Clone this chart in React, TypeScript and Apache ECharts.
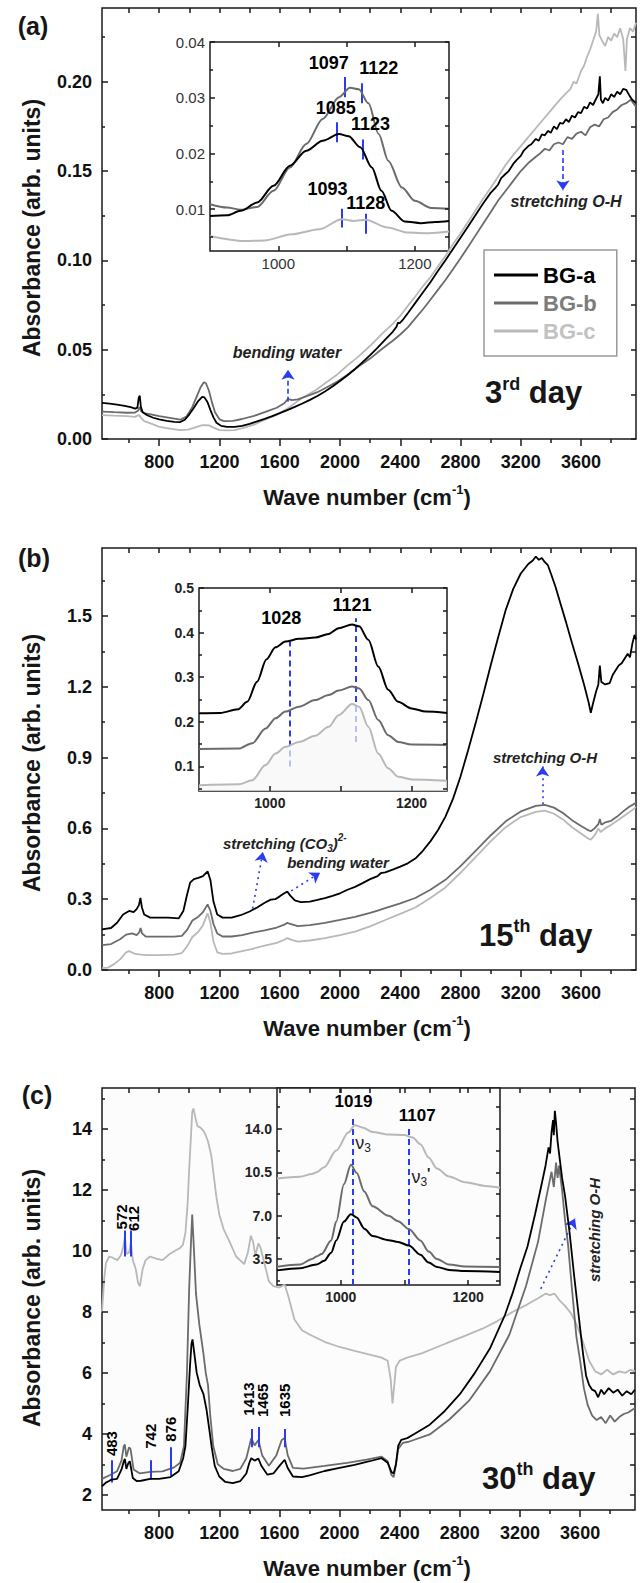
import React, { useEffect, useRef } from 'react';
import * as echarts from 'echarts';

const FONT = '"Liberation Sans", Arial, Helvetica, sans-serif';
const COL_A = '#000000';
const COL_B = '#6b6b6b';
const COL_C = '#b8b8b8';
const BLUE = '#2a3cf0';
const AXC = '#1a1a1a';
const TXT = '#161616';

// ---------- shared x axis of the three main panels ----------
const X_MIN = 420;
const X_MAX = 3965;
const X_LABELS = [800, 1200, 1600, 2000, 2400, 2800, 3200, 3600];
const X_MINOR = [600, 1000, 1400, 1800, 2200, 2600, 3000, 3400, 3800];

// ---------- panel (a) : 3rd day ----------
const A_Y_MIN = 0;
const A_Y_MAX = 0.2413;
const A_Y_LABELS = [0, 0.05, 0.1, 0.15, 0.2];
const A_Y_MINOR = [0.025, 0.075, 0.125, 0.175, 0.225];

const aBGa: [number, number][] = [
  [420, 0.0202], [470, 0.0198], [520, 0.0192], [570, 0.0186], [610, 0.0178], [640, 0.017], [655, 0.0176], [664, 0.0232], [671, 0.0242], [678, 0.018],
  [690, 0.015], [720, 0.0133], [760, 0.0119], [800, 0.011], [850, 0.0101], [900, 0.0096], [940, 0.0095], [970, 0.0108], [1000, 0.0138], [1030, 0.0175],
  [1060, 0.0214], [1085, 0.0236], [1100, 0.0233], [1120, 0.0207], [1140, 0.0162], [1160, 0.0121], [1180, 0.0091], [1210, 0.0074], [1250, 0.0068], [1300, 0.0068],
  [1350, 0.0073], [1400, 0.0085], [1450, 0.0099], [1500, 0.0113], [1550, 0.0128], [1600, 0.0145], [1650, 0.0162], [1700, 0.018], [1750, 0.0199], [1800, 0.0219],
  [1850, 0.0241], [1900, 0.0266], [1950, 0.0294], [2000, 0.0325], [2050, 0.0357], [2100, 0.0392], [2150, 0.043], [2200, 0.047], [2250, 0.0512], [2300, 0.0556],
  [2350, 0.06], [2375, 0.0628], [2385, 0.0652], [2395, 0.0648], [2420, 0.067], [2450, 0.0704], [2500, 0.0762], [2550, 0.082], [2600, 0.0878], [2650, 0.094],
  [2700, 0.1001], [2750, 0.1064], [2800, 0.1127], [2850, 0.119], [2900, 0.1254], [2950, 0.1318], [3000, 0.1378], [3030, 0.1405], [3050, 0.1425], [3070, 0.146],
  [3100, 0.1485], [3120, 0.15], [3150, 0.154], [3170, 0.156], [3200, 0.1585], [3220, 0.1615], [3250, 0.164], [3270, 0.165], [3300, 0.168], [3320, 0.167],
  [3340, 0.1705], [3360, 0.17], [3380, 0.1725], [3400, 0.1715], [3420, 0.175], [3440, 0.1735], [3460, 0.177], [3480, 0.1765], [3500, 0.179], [3520, 0.1775],
  [3540, 0.181], [3560, 0.18], [3580, 0.183], [3600, 0.1825], [3620, 0.186], [3640, 0.185], [3660, 0.1885], [3680, 0.187], [3700, 0.1905], [3715, 0.193],
  [3725, 0.203], [3732, 0.19], [3745, 0.188], [3760, 0.191], [3780, 0.1895], [3800, 0.193], [3820, 0.1915], [3840, 0.1945], [3860, 0.193], [3880, 0.196],
  [3900, 0.1955], [3920, 0.1925], [3940, 0.19], [3965, 0.188],
];
const aBGb: [number, number][] = [
  [420, 0.0153], [500, 0.015], [586, 0.0147], [640, 0.0148], [660, 0.016], [670, 0.0178], [680, 0.0155], [700, 0.0145], [760, 0.0135], [800, 0.0128],
  [870, 0.0118], [940, 0.0108], [980, 0.0125], [1020, 0.018], [1050, 0.024], [1075, 0.029], [1096, 0.0318], [1110, 0.0312], [1130, 0.027], [1150, 0.0205],
  [1170, 0.015], [1200, 0.011], [1230, 0.01], [1290, 0.0102], [1350, 0.0112], [1430, 0.013], [1500, 0.015], [1580, 0.0175], [1630, 0.02], [1655, 0.0225],
  [1680, 0.0218], [1720, 0.0222], [1780, 0.024], [1850, 0.0262], [1910, 0.0288], [1980, 0.032], [2050, 0.036], [2120, 0.0405], [2200, 0.045], [2280, 0.0505],
  [2350, 0.055], [2400, 0.0585], [2450, 0.0625], [2500, 0.0675], [2550, 0.0725], [2600, 0.078], [2650, 0.0835], [2700, 0.089], [2750, 0.095], [2800, 0.1012],
  [2850, 0.1075], [2900, 0.114], [2950, 0.1205], [3000, 0.127], [3050, 0.1335], [3100, 0.139], [3150, 0.1445], [3200, 0.15], [3250, 0.1545], [3300, 0.158],
  [3330, 0.16], [3360, 0.1625], [3390, 0.1615], [3420, 0.165], [3450, 0.166], [3480, 0.165], [3510, 0.169], [3540, 0.168], [3570, 0.171], [3600, 0.172],
  [3630, 0.17], [3660, 0.1745], [3690, 0.176], [3720, 0.175], [3750, 0.179], [3780, 0.18], [3810, 0.183], [3840, 0.1845], [3870, 0.187], [3900, 0.188],
  [3930, 0.19], [3965, 0.186],
];
const aBGc: [number, number][] = [
  [420, 0.0134], [500, 0.0131], [586, 0.0128], [640, 0.0124], [665, 0.0135], [680, 0.0118], [700, 0.01], [760, 0.0082], [800, 0.0068], [870, 0.0058],
  [940, 0.005], [990, 0.0052], [1030, 0.0062], [1080, 0.0076], [1100, 0.0078], [1130, 0.0076], [1160, 0.0064], [1200, 0.005], [1250, 0.0048], [1300, 0.005],
  [1360, 0.0062], [1430, 0.008], [1500, 0.0108], [1580, 0.0135], [1660, 0.0175], [1740, 0.0225], [1800, 0.0255], [1850, 0.028], [1910, 0.0318], [1980, 0.036],
  [2050, 0.0412], [2120, 0.046], [2200, 0.0522], [2280, 0.059], [2350, 0.0645], [2400, 0.069], [2450, 0.0745], [2500, 0.0798], [2550, 0.0855], [2600, 0.0905],
  [2650, 0.0965], [2700, 0.1025], [2750, 0.109], [2800, 0.115], [2850, 0.1215], [2900, 0.128], [2950, 0.1345], [3000, 0.1405], [3050, 0.147], [3100, 0.1535],
  [3150, 0.159], [3200, 0.164], [3250, 0.169], [3300, 0.174], [3350, 0.179], [3400, 0.184], [3450, 0.189], [3500, 0.1935], [3530, 0.196], [3550, 0.2],
  [3570, 0.199], [3600, 0.206], [3620, 0.209], [3640, 0.214], [3660, 0.218], [3680, 0.223], [3700, 0.228], [3712, 0.238], [3722, 0.226], [3740, 0.223],
  [3760, 0.22], [3780, 0.225], [3800, 0.223], [3820, 0.227], [3840, 0.225], [3860, 0.23], [3880, 0.224], [3895, 0.206], [3905, 0.224], [3925, 0.23],
  [3945, 0.228], [3965, 0.233],
];

// inset (a)
const AI_X_MIN = 900;
const AI_X_MAX = 1250;
const AI_Y_MIN = 0.0025;
const AI_Y_MAX = 0.04;
const AI_X_LABELS = [1000, 1200];
const AI_X_MINOR = [1100];
const AI_Y_LABELS = [0.01, 0.02, 0.03, 0.04];
const AI_Y_MINOR = [0.005, 0.015, 0.025, 0.035];
const aiBGa: [number, number][] = [
  [900, 0.0088], [925, 0.0089], [945, 0.0097], [969, 0.0112], [993, 0.0142], [1017, 0.0178], [1041, 0.0205], [1065, 0.0223], [1089, 0.0235], [1103, 0.0231],
  [1120, 0.0211], [1137, 0.0175], [1151, 0.0133], [1166, 0.0097], [1185, 0.0078], [1209, 0.0075], [1230, 0.0077], [1250, 0.0079],
];
const aiBGb: [number, number][] = [
  [900, 0.0109], [925, 0.0103], [945, 0.0099], [969, 0.0104], [993, 0.0133], [1017, 0.0175], [1041, 0.0217], [1065, 0.0262], [1089, 0.0301], [1105, 0.0318],
  [1118, 0.0315], [1132, 0.029], [1147, 0.0235], [1161, 0.0187], [1181, 0.0139], [1200, 0.0115], [1224, 0.0102], [1250, 0.0101],
];
const aiBGc: [number, number][] = [
  [900, 0.0052], [950, 0.0043], [980, 0.0044], [1020, 0.0055], [1060, 0.0064], [1093, 0.0082], [1110, 0.0079], [1128, 0.0081], [1160, 0.0067], [1190, 0.0058],
  [1220, 0.0057], [1250, 0.006],
];
// blue tick marks of inset (a): [wavenumber, from, to]
const aiMarks: [number, number, number][] = [
  [1097, 0.0301, 0.0337], [1122, 0.029, 0.0326], [1085, 0.022, 0.0256], [1123, 0.0189, 0.0225], [1093, 0.0067, 0.0101], [1128, 0.0056, 0.0092],
];
const aiMarkLabels: [string, number, number][] = [
  ['1097', 1074, 0.0362], ['1122', 1147, 0.0353], ['1085', 1084, 0.0281], ['1123', 1135, 0.0252], ['1093', 1072, 0.0137], ['1128', 1128, 0.0112],
];
const aArrows: [number, number, number, number][] = [
  [1655, 0.0208, 1655, 0.0388], [3480, 0.1618, 3480, 0.1392],
];

// ---------- panel (b) : 15th day ----------
const B_Y_MIN = 0;
const B_Y_MAX = 1.788;
const B_Y_LABELS = [0, 0.3, 0.6, 0.9, 1.2, 1.5];
const B_Y_MINOR = [0.15, 0.45, 0.75, 1.05, 1.35, 1.65];
const bBGa: [number, number][] = [
  [420, 0.172], [480, 0.178], [520, 0.2], [560, 0.235], [600, 0.25], [630, 0.245], [650, 0.258], [665, 0.275], [675, 0.305], [685, 0.265],
  [700, 0.235], [740, 0.222], [800, 0.222], [860, 0.222], [930, 0.219], [960, 0.25], [985, 0.32], [1005, 0.37], [1030, 0.385], [1060, 0.39],
  [1090, 0.398], [1121, 0.418], [1140, 0.38], [1160, 0.29], [1185, 0.235], [1220, 0.222], [1280, 0.222], [1340, 0.232], [1400, 0.248], [1450, 0.265],
  [1500, 0.285], [1540, 0.298], [1570, 0.3], [1600, 0.312], [1630, 0.325], [1650, 0.332], [1670, 0.315], [1700, 0.295], [1740, 0.288], [1800, 0.29],
  [1850, 0.297], [1900, 0.305], [1950, 0.314], [2000, 0.325], [2050, 0.34], [2100, 0.352], [2150, 0.368], [2200, 0.385], [2250, 0.398], [2270, 0.41],
  [2300, 0.414], [2350, 0.425], [2400, 0.438], [2450, 0.452], [2500, 0.472], [2550, 0.505], [2600, 0.545], [2650, 0.592], [2700, 0.65], [2750, 0.725],
  [2800, 0.82], [2850, 0.93], [2900, 1.045], [2950, 1.165], [3000, 1.29], [3050, 1.41], [3100, 1.525], [3150, 1.615], [3200, 1.68], [3250, 1.72],
  [3280, 1.735], [3300, 1.752], [3320, 1.738], [3340, 1.746], [3360, 1.728], [3380, 1.715], [3400, 1.68], [3430, 1.625], [3460, 1.56], [3500, 1.475],
  [3540, 1.385], [3580, 1.3], [3620, 1.21], [3650, 1.135], [3665, 1.09], [3680, 1.13], [3700, 1.18], [3715, 1.21], [3725, 1.29], [3735, 1.22],
  [3760, 1.21], [3790, 1.215], [3810, 1.25], [3830, 1.27], [3850, 1.29], [3870, 1.3], [3890, 1.32], [3910, 1.34], [3925, 1.325], [3940, 1.38],
  [3955, 1.42], [3965, 1.4],
];
const bBGb: [number, number][] = [
  [420, 0.105], [480, 0.11], [540, 0.13], [580, 0.15], [620, 0.155], [650, 0.148], [668, 0.16], [676, 0.178], [686, 0.155], [710, 0.142],
  [800, 0.141], [900, 0.141], [950, 0.145], [985, 0.17], [1020, 0.21], [1060, 0.226], [1090, 0.245], [1121, 0.278], [1140, 0.25], [1160, 0.195],
  [1185, 0.155], [1220, 0.142], [1280, 0.142], [1350, 0.148], [1420, 0.158], [1500, 0.168], [1580, 0.18], [1630, 0.192], [1650, 0.2], [1670, 0.195],
  [1720, 0.186], [1800, 0.19], [1900, 0.2], [2000, 0.212], [2100, 0.225], [2200, 0.242], [2250, 0.252], [2300, 0.262], [2400, 0.282], [2500, 0.305],
  [2600, 0.34], [2700, 0.382], [2800, 0.44], [2900, 0.505], [3000, 0.57], [3100, 0.63], [3200, 0.672], [3300, 0.695], [3360, 0.7], [3420, 0.688],
  [3480, 0.665], [3540, 0.635], [3600, 0.61], [3640, 0.595], [3665, 0.588], [3690, 0.6], [3715, 0.618], [3725, 0.64], [3735, 0.615], [3760, 0.625],
  [3800, 0.632], [3840, 0.65], [3880, 0.672], [3920, 0.692], [3965, 0.708],
];
const bBGc: [number, number][] = [
  [420, 0.008], [460, 0.01], [500, 0.025], [540, 0.045], [580, 0.075], [600, 0.08], [640, 0.068], [680, 0.065], [720, 0.063], [800, 0.063],
  [900, 0.065], [950, 0.072], [985, 0.1], [1020, 0.14], [1060, 0.162], [1090, 0.19], [1121, 0.24], [1140, 0.2], [1160, 0.12], [1185, 0.075],
  [1220, 0.068], [1280, 0.07], [1350, 0.08], [1420, 0.09], [1500, 0.103], [1580, 0.115], [1630, 0.128], [1650, 0.135], [1680, 0.128], [1720, 0.12],
  [1800, 0.125], [1900, 0.135], [2000, 0.148], [2100, 0.163], [2200, 0.185], [2300, 0.212], [2400, 0.238], [2500, 0.265], [2600, 0.305], [2700, 0.35],
  [2800, 0.412], [2900, 0.478], [3000, 0.545], [3100, 0.605], [3200, 0.648], [3300, 0.67], [3360, 0.675], [3420, 0.662], [3480, 0.638], [3540, 0.605],
  [3600, 0.578], [3640, 0.56], [3665, 0.552], [3690, 0.57], [3715, 0.6], [3730, 0.585], [3760, 0.6], [3800, 0.615], [3840, 0.632], [3880, 0.65],
  [3920, 0.668], [3965, 0.69],
];

// inset (b)
const BI_X_MIN = 900;
const BI_X_MAX = 1250;
const BI_Y_MIN = 0.045;
const BI_Y_MAX = 0.5;
const BI_X_LABELS = [1000, 1200];
const BI_X_MINOR = [1100];
const BI_Y_LABELS = [0.1, 0.2, 0.3, 0.4, 0.5];
const BI_Y_MINOR = [0.05, 0.15, 0.25, 0.35, 0.45];
const biBGa: [number, number][] = [
  [900, 0.219], [930, 0.22], [955, 0.228], [968, 0.245], [982, 0.29], [995, 0.34], [1008, 0.367], [1022, 0.38], [1041, 0.386], [1064, 0.389],
  [1083, 0.397], [1097, 0.41], [1116, 0.418], [1126, 0.414], [1139, 0.384], [1153, 0.324], [1167, 0.272], [1181, 0.245], [1200, 0.23], [1220, 0.223],
  [1250, 0.22],
];
const biBGb: [number, number][] = [
  [900, 0.139], [956, 0.14], [975, 0.152], [994, 0.185], [1008, 0.208], [1022, 0.223], [1041, 0.234], [1064, 0.249], [1083, 0.26], [1097, 0.27],
  [1116, 0.279], [1126, 0.275], [1139, 0.249], [1153, 0.204], [1167, 0.17], [1181, 0.155], [1200, 0.149], [1250, 0.148],
];
const biBGc: [number, number][] = [
  [900, 0.058], [956, 0.06], [975, 0.069], [994, 0.103], [1008, 0.129], [1022, 0.144], [1041, 0.155], [1064, 0.169], [1083, 0.189], [1097, 0.215],
  [1116, 0.24], [1126, 0.234], [1139, 0.189], [1153, 0.129], [1167, 0.096], [1181, 0.077], [1200, 0.071], [1250, 0.068],
];
const biLines: [number, number, number][] = [[1028, 0.1, 0.382], [1121, 0.155, 0.432]];
const biLineLabels: [string, number, number][] = [['1028', 1016, 0.433], ['1121', 1116, 0.462]];
const bArrows: [number, number, number, number][] = [
  [1420, 0.26, 1488, 0.5], [1676, 0.335, 1868, 0.412], [3345, 0.702, 3345, 0.862],
];

// ---------- panel (c) : 30th day ----------
const C_Y_MIN = 1.5;
const C_Y_MAX = 15.35;
const C_Y_LABELS = [2, 4, 6, 8, 10, 12, 14];
const C_Y_MINOR = [3, 5, 7, 9, 11, 13, 15];
const cBGa: [number, number][] = [
  [420, 2.28], [446, 2.4], [470, 2.46], [483, 2.5], [520, 2.52], [550, 2.83], [565, 3.1], [572, 3.18], [582, 2.85], [596, 3.05],
  [605, 3.1], [625, 2.55], [650, 2.45], [680, 2.46], [740, 2.52], [800, 2.52], [876, 2.58], [930, 2.77], [960, 3.2], [975, 3.6],
  [990, 4.83], [1005, 6.2], [1015, 6.95], [1022, 7.1], [1035, 6.6], [1050, 6.0], [1070, 5.6], [1095, 5.3], [1115, 4.8], [1135, 4.1],
  [1150, 3.55], [1170, 2.95], [1200, 2.6], [1240, 2.42], [1290, 2.38], [1340, 2.45], [1380, 2.7], [1400, 3.05], [1413, 3.2], [1435, 3.12],
  [1460, 3.19], [1480, 2.95], [1520, 2.66], [1560, 2.7], [1600, 2.95], [1635, 3.15], [1655, 2.88], [1690, 2.6], [1750, 2.58], [1800, 2.64],
  [1900, 2.78], [2000, 2.88], [2100, 2.98], [2200, 3.1], [2280, 3.2], [2320, 3.05], [2345, 2.75], [2360, 2.7], [2375, 3.0], [2390, 3.6],
  [2410, 3.8], [2450, 3.86], [2500, 4.0], [2600, 4.3], [2700, 4.75], [2800, 5.3], [2900, 6.0], [3000, 6.8], [3100, 7.9], [3150, 8.6],
  [3200, 9.4], [3250, 10.15], [3300, 11.2], [3340, 12.1], [3370, 12.8], [3390, 13.4], [3400, 13.2], [3410, 13.9], [3420, 14.3], [3425, 13.8],
  [3432, 14.6], [3440, 14.2], [3450, 13.6], [3465, 13.0], [3480, 12.4], [3500, 11.8], [3530, 10.6], [3560, 9.2], [3590, 7.9], [3620, 6.6],
  [3640, 5.9], [3660, 5.6], [3680, 5.45], [3700, 5.4], [3720, 5.2], [3740, 5.45], [3760, 5.3], [3790, 5.5], [3820, 5.35], [3850, 5.45],
  [3880, 5.25], [3910, 5.4], [3940, 5.3], [3965, 5.45],
];
const cBGb: [number, number][] = [
  [420, 2.52], [470, 2.64], [520, 2.77], [550, 3.13], [565, 3.6], [572, 3.65], [582, 3.25], [600, 3.56], [610, 3.5], [630, 2.83],
  [672, 2.7], [740, 2.75], [822, 2.77], [900, 2.9], [940, 3.05], [965, 3.6], [985, 6.0], [1000, 8.8], [1012, 10.3], [1020, 11.2],
  [1030, 10.2], [1045, 8.6], [1067, 7.6], [1094, 6.66], [1110, 6.0], [1125, 5.6], [1140, 4.6], [1160, 3.6], [1190, 3.0], [1230, 2.85],
  [1290, 2.78], [1340, 2.85], [1380, 3.2], [1413, 3.86], [1435, 3.62], [1460, 3.8], [1485, 3.3], [1530, 2.95], [1580, 3.3], [1615, 3.8],
  [1635, 3.86], [1655, 3.3], [1690, 2.88], [1760, 2.86], [1900, 2.95], [2050, 3.05], [2180, 3.15], [2280, 3.25], [2320, 3.1], [2345, 2.65],
  [2360, 2.58], [2375, 3.0], [2390, 3.5], [2420, 3.7], [2460, 3.74], [2600, 3.98], [2730, 4.47], [2860, 5.08], [3000, 6.05], [3130, 7.26],
  [3240, 8.85], [3320, 10.3], [3375, 11.76], [3410, 12.6], [3425, 12.1], [3440, 12.9], [3450, 12.4], [3460, 12.8], [3480, 12.0], [3500, 11.0],
  [3520, 10.2], [3545, 8.8], [3575, 7.2], [3600, 6.4], [3625, 5.5], [3650, 4.95], [3680, 4.6], [3710, 4.45], [3740, 4.55], [3770, 4.35],
  [3800, 4.6], [3830, 4.4], [3860, 4.55], [3890, 4.65], [3920, 4.7], [3950, 4.8], [3965, 4.85],
];
const cBGc: [number, number][] = [
  [420, 7.99], [435, 9.1], [446, 9.6], [468, 9.82], [490, 9.78], [522, 9.7], [545, 9.85], [560, 10.1], [572, 10.45], [585, 9.9],
  [600, 9.95], [612, 10.3], [625, 9.7], [645, 9.4], [660, 8.95], [672, 8.84], [690, 9.4], [710, 9.7], [740, 9.82], [780, 9.75],
  [822, 9.7], [870, 9.9], [903, 10.0], [940, 10.1], [958, 10.2], [975, 10.6], [990, 11.6], [1000, 12.7], [1012, 13.8], [1020, 14.55],
  [1028, 14.68], [1040, 14.4], [1055, 14.1], [1075, 14.05], [1094, 13.95], [1110, 13.8], [1125, 13.6], [1148, 13.1], [1165, 12.4], [1180, 11.8],
  [1200, 11.2], [1230, 10.7], [1260, 10.4], [1312, 9.82], [1366, 9.57], [1390, 9.95], [1410, 10.5], [1425, 10.3], [1440, 9.85], [1460, 10.25],
  [1475, 10.1], [1500, 9.6], [1530, 9.0], [1560, 8.85], [1600, 8.8], [1635, 8.9], [1660, 8.5], [1700, 7.75], [1750, 7.4], [1800, 7.26],
  [1900, 7.02], [2000, 6.85], [2100, 6.72], [2200, 6.6], [2280, 6.5], [2320, 6.4], [2340, 5.8], [2352, 5.0], [2362, 5.5], [2375, 6.2],
  [2400, 6.4], [2450, 6.5], [2550, 6.65], [2650, 6.85], [2750, 7.05], [2850, 7.25], [2950, 7.45], [3050, 7.7], [3150, 8.0], [3250, 8.25],
  [3320, 8.45], [3370, 8.6], [3400, 8.55], [3430, 8.6], [3460, 8.4], [3500, 8.2], [3540, 7.95], [3580, 7.55], [3620, 7.0], [3660, 6.4],
  [3700, 6.05], [3740, 5.95], [3780, 6.1], [3820, 5.95], [3860, 6.05], [3900, 6.0], [3935, 6.1], [3965, 6.05],
];
const cMarks: [number, number, number][] = [
  [483, 2.4, 3.13], [742, 2.5, 3.13], [876, 2.62, 3.56], [1413, 3.56, 4.16], [1465, 3.56, 4.22], [1635, 3.56, 4.16], [572, 9.82, 10.67], [612, 9.82, 10.67],
];
const cMarkLabels: [string, number, number][] = [
  ['483', 483, 3.68], ['742', 742, 3.92], ['876', 876, 4.15], ['1413', 1392, 5.14], ['1465', 1490, 5.1], ['1635', 1635, 5.1], ['572', 548, 11.12], ['612', 632, 11.07],
];
const cArrows: [number, number, number, number][] = [[3338, 8.76, 3566, 11.07]];

// inset (c)
const CI_X_MIN = 900;
const CI_X_MAX = 1250;
const CI_Y_MIN = 1.4;
const CI_Y_MAX = 17.3;
const CI_X_LABELS = [1000, 1200];
const CI_X_MINOR = [1100];
const CI_Y_LABELS = [3.5, 7, 10.5, 14];
const CI_Y_MINOR = [1.75, 5.25, 8.75, 12.25, 15.75];
const ciBGa: [number, number][] = [
  [900, 2.58], [936, 2.75], [962, 3.05], [974, 3.35], [985, 4.0], [993, 5.0], [1005, 6.52], [1016, 7.12], [1025, 6.85], [1037, 5.95],
  [1050, 5.35], [1075, 5.02], [1090, 4.88], [1107, 4.58], [1125, 3.85], [1138, 3.22], [1151, 2.86], [1170, 2.62], [1195, 2.52], [1250, 2.45],
];
const ciBGb: [number, number][] = [
  [900, 2.88], [936, 3.05], [955, 3.5], [962, 3.7], [970, 3.9], [985, 5.0], [993, 6.52], [1005, 9.53], [1016, 11.1], [1025, 10.45],
  [1037, 8.95], [1050, 7.75], [1075, 6.98], [1090, 6.55], [1107, 5.92], [1125, 5.0], [1138, 4.1], [1151, 3.5], [1170, 3.05], [1195, 2.9],
  [1250, 2.85],
];
const ciBGc: [number, number][] = [
  [900, 9.99], [936, 10.14], [955, 10.35], [962, 10.5], [974, 10.9], [993, 12.25], [1012, 13.7], [1022, 14.3], [1035, 14.1], [1050, 13.75],
  [1075, 13.55], [1100, 13.5], [1113, 13.3], [1125, 12.75], [1138, 11.7], [1151, 10.8], [1170, 10.15], [1195, 9.7], [1227, 9.4], [1250, 9.25],
];
const ciLines: [number, number, number][] = [[1019, CI_Y_MIN, 15.1], [1107, CI_Y_MIN, 14.3]];
const ciLineLabels: [string, number, number][] = [['1019', 1020, 16.2], ['1107', 1120, 15.1]];
const ciNuLabels: [string, number, number][] = [['{v|ν}{s|3}', 1019, 12.9], ["{v|ν}{s|3}{p|'}", 1107, 10.1]];

// ---------- helpers ----------
let measureCtx: CanvasRenderingContext2D | null = null;
function tw(text: string, size: number, weight: string, style: string) {
  if (!measureCtx) measureCtx = document.createElement('canvas').getContext('2d');
  measureCtx!.font = `${style} ${weight} ${size}px "Liberation Sans", Arial, sans-serif`;
  return measureCtx!.measureText(text).width;
}
type Piece = { t: string; size: number; dy?: number; italic?: boolean; weight?: string };
function compose(pieces: Piece[], x: number, cy: number, align: 'left' | 'center', color = TXT) {
  const ws = pieces.map((p) => tw(p.t, p.size, p.weight || 'bold', p.italic ? 'italic' : 'normal'));
  const total = ws.reduce((a, b) => a + b, 0);
  let cx = align === 'center' ? x - total / 2 : x;
  return pieces.map((p, i) => {
    const el = {
      type: 'text', x: cx, y: cy + (p.dy || 0), silent: true, z: 50,
      style: {
        text: p.t, fontSize: p.size, fontWeight: p.weight || 'bold', fontStyle: p.italic ? 'italic' : 'normal',
        fontFamily: FONT, fill: color, align: 'left', verticalAlign: 'middle',
      },
    };
    cx += ws[i];
    return el;
  });
}

function buildOption() {
  const grid: any[] = [];
  const xAxis: any[] = [];
  const yAxis: any[] = [];
  const series: any[] = [];

  const addGrid = (left: number, top: number, width: number, height: number, bg: string) => {
    grid.push({ left, top, width, height, show: true, borderColor: AXC, borderWidth: 1.5, backgroundColor: bg, containLabel: false, z: 0 });
    return grid.length - 1;
  };
  const ax = (g: number, pos: string, min: number, max: number, o: any) => ({
    type: 'value', gridIndex: g, position: pos, min, max, scale: false, z: 10,
    axisLine: { show: false, onZero: false },
    splitLine: { show: false },
    axisTick: o.ticks ? { show: true, customValues: o.ticks, inside: !!o.inside, length: o.len, lineStyle: { color: AXC, width: 1.5 } } : { show: false },
    axisLabel: o.labels ? { show: true, customValues: o.labels, formatter: o.fmt, ...o.lab } : { show: false },
  });
  const mainLab = (margin: number) => ({ margin, fontSize: 18, fontWeight: 'bold', color: '#111', fontFamily: FONT });

  const mainAxes = (g: number, yMin: number, yMax: number, yLabels: number[], yMinor: number[], fmt: (v: number) => string) => {
    const xi = xAxis.length;
    xAxis.push(ax(g, 'bottom', X_MIN, X_MAX, { ticks: X_LABELS, len: 7, labels: X_LABELS, fmt: (v: number) => String(v), lab: mainLab(14) }));
    xAxis.push(ax(g, 'bottom', X_MIN, X_MAX, { ticks: X_MINOR, len: 4 }));
    xAxis.push(ax(g, 'top', X_MIN, X_MAX, { ticks: [...X_LABELS, ...X_MINOR], len: 5, inside: true }));
    const yi = yAxis.length;
    yAxis.push(ax(g, 'left', yMin, yMax, { ticks: yLabels, len: 6, inside: true, labels: yLabels, fmt, lab: mainLab(10) }));
    yAxis.push(ax(g, 'left', yMin, yMax, { ticks: yMinor, len: 3, inside: true }));
    yAxis.push(ax(g, 'right', yMin, yMax, { ticks: [...yLabels, ...yMinor], len: 5, inside: true }));
    return [xi, yi];
  };
  const insetAxes = (g: number, xr: number[], xLabels: number[], xMinor: number[], yr: number[], yLabels: number[], yMinor: number[],
    fmt: (v: number) => string, lab: any) => {
    const xi = xAxis.length;
    xAxis.push(ax(g, 'bottom', xr[0], xr[1], { ticks: [...xLabels, ...xMinor], len: 5, inside: true, labels: xLabels, fmt: (v: number) => String(v), lab: { ...lab, margin: 5 } }));
    xAxis.push(ax(g, 'top', xr[0], xr[1], { ticks: [...xLabels, ...xMinor], len: 5, inside: true }));
    const yi = yAxis.length;
    yAxis.push(ax(g, 'left', yr[0], yr[1], { ticks: yLabels, len: 5, inside: true, labels: yLabels, fmt, lab: { ...lab, margin: 5 } }));
    yAxis.push(ax(g, 'left', yr[0], yr[1], { ticks: yMinor, len: 3, inside: true }));
    yAxis.push(ax(g, 'right', yr[0], yr[1], { ticks: [...yLabels, ...yMinor], len: 4, inside: true }));
    return [xi, yi];
  };
  const line = (name: string, data: [number, number][], xi: number, yi: number, color: string, width: number, z: number, extra: any = {}) => ({
    type: 'line', name, data, xAxisIndex: xi, yAxisIndex: yi, showSymbol: false, symbol: 'none', color,
    lineStyle: { color, width }, itemStyle: { color }, z, silent: true, ...extra,
  });
  const segs = (marks: [number, number, number][]) => marks.map(([x, a, b]) => [{ coord: [x, a] }, { coord: [x, b] }]);
  const arrows = (arr: [number, number, number, number][]) =>
    arr.map(([x1, y1, x2, y2]) => [{ coord: [x1, y1], symbol: 'none' }, { coord: [x2, y2], symbol: 'arrow', symbolSize: 10 }]);
  const markSolid = (marks: [number, number, number][]) => ({
    silent: true, symbol: 'none', label: { show: false }, lineStyle: { color: BLUE, width: 2, type: 'solid' }, data: segs(marks),
  });
  const markDashed = (marks: [number, number, number][]) => ({
    silent: true, symbol: 'none', label: { show: false }, lineStyle: { color: BLUE, width: 2, type: [6, 4] }, data: segs(marks),
  });
  const markArrows = (arr: [number, number, number, number][], dash: number[]) => ({
    silent: true, symbol: ['none', 'arrow'], symbolSize: 10, label: { show: false },
    itemStyle: { color: BLUE }, lineStyle: { color: BLUE, width: 1.6, type: dash }, data: arrows(arr),
  });
  const textSeries = (xi: number, yi: number, items: [string, number, number][], lab: any) => ({
    type: 'scatter', xAxisIndex: xi, yAxisIndex: yi, symbolSize: 1, silent: true, z: 20,
    itemStyle: { color: 'rgba(0,0,0,0)', opacity: 1 },
    data: items.map(([t, x, y]) => ({ name: t, value: [x, y] })),
    label: { show: true, position: 'inside', formatter: (p: any) => p.name, opacity: 1, ...lab },
  });
  const numLab = { fontSize: 18, fontWeight: 'bold', color: '#000', fontFamily: FONT };

  // ---- panel (a)
  const gA = addGrid(102, 8, 534, 431, '#ffffff');
  const [axA, ayA] = mainAxes(gA, A_Y_MIN, A_Y_MAX, A_Y_LABELS, A_Y_MINOR, (v) => v.toFixed(2));
  series.push(line('BG-c', aBGc, axA, ayA, COL_C, 1.8, 3));
  series.push(line('BG-b', aBGb, axA, ayA, COL_B, 1.8, 4, { markLine: markArrows(aArrows, [5, 3]) }));
  series.push(line('BG-a', aBGa, axA, ayA, COL_A, 1.8, 5));

  const gAI = addGrid(210, 42, 239, 209, '#ffffff');
  const [axAI, ayAI] = insetAxes(gAI, [AI_X_MIN, AI_X_MAX], AI_X_LABELS, AI_X_MINOR, [AI_Y_MIN, AI_Y_MAX], AI_Y_LABELS, AI_Y_MINOR,
    (v) => v.toFixed(2), { fontSize: 15, fontWeight: 'normal', color: '#333', fontFamily: FONT });
  series.push(line('BG-c', aiBGc, axAI, ayAI, COL_C, 2, 6, { smooth: 0.3, smoothMonotone: 'x' }));
  series.push(line('BG-b', aiBGb, axAI, ayAI, COL_B, 2, 7, { smooth: 0.3, smoothMonotone: 'x' }));
  series.push(line('BG-a', aiBGa, axAI, ayAI, COL_A, 2, 8, { smooth: 0.3, smoothMonotone: 'x', markLine: markSolid(aiMarks) }));
  series.push(textSeries(axAI, ayAI, aiMarkLabels, numLab));

  // ---- panel (b)
  const gB = addGrid(102, 548, 534, 422, '#ffffff');
  const [axB, ayB] = mainAxes(gB, B_Y_MIN, B_Y_MAX, B_Y_LABELS, B_Y_MINOR, (v) => v.toFixed(1));
  series.push(line('BG-c', bBGc, axB, ayB, COL_C, 1.8, 3));
  series.push(line('BG-b', bBGb, axB, ayB, COL_B, 1.8, 4, { markLine: markArrows(bArrows, [2, 4]) }));
  series.push(line('BG-a', bBGa, axB, ayB, COL_A, 1.8, 5));

  const gBI = addGrid(199, 588, 248, 203, '#ffffff');
  const [axBI, ayBI] = insetAxes(gBI, [BI_X_MIN, BI_X_MAX], BI_X_LABELS, BI_X_MINOR, [BI_Y_MIN, BI_Y_MAX], BI_Y_LABELS, BI_Y_MINOR,
    (v) => v.toFixed(1), { fontSize: 14, fontWeight: 'bold', color: '#222', fontFamily: FONT });
  series.push(line('BG-c', biBGc, axBI, ayBI, COL_C, 2, 6, { smooth: 0.3, smoothMonotone: 'x', areaStyle: { color: '#f6f6f6', origin: 'start' } }));
  series.push(line('BG-b', biBGb, axBI, ayBI, COL_B, 2, 7, { smooth: 0.3, smoothMonotone: 'x' }));
  series.push(line('BG-a', biBGa, axBI, ayBI, COL_A, 2, 8, { smooth: 0.3, smoothMonotone: 'x', markLine: markDashed(biLines) }));
  series.push(textSeries(axBI, ayBI, biLineLabels, numLab));

  // ---- panel (c)
  const gC = addGrid(102, 1088, 533, 422, '#fcfcfc');
  const [axC, ayC] = mainAxes(gC, C_Y_MIN, C_Y_MAX, C_Y_LABELS, C_Y_MINOR, (v) => String(v));
  series.push(line('BG-c', cBGc, axC, ayC, COL_C, 1.8, 3));
  series.push(line('BG-b', cBGb, axC, ayC, COL_B, 1.8, 4, { markLine: markArrows(cArrows, [2, 4]) }));
  series.push(line('BG-a', cBGa, axC, ayC, COL_A, 1.8, 5, { markLine: markSolid(cMarks) }));
  series.push(textSeries(axC, ayC, cMarkLabels, { fontSize: 15, fontWeight: 'bold', color: '#000', fontFamily: FONT, rotate: 90 }));

  const gCI = addGrid(277, 1088, 223, 197, '#fcfcfc');
  const [axCI, ayCI] = insetAxes(gCI, [CI_X_MIN, CI_X_MAX], CI_X_LABELS, CI_X_MINOR, [CI_Y_MIN, CI_Y_MAX], CI_Y_LABELS, CI_Y_MINOR,
    (v) => v.toFixed(1), { fontSize: 14, fontWeight: 'bold', color: '#222', fontFamily: FONT });
  series.push(line('BG-c', ciBGc, axCI, ayCI, COL_C, 2, 6, { smooth: 0.3, smoothMonotone: 'x' }));
  series.push(line('BG-b', ciBGb, axCI, ayCI, COL_B, 2, 7, { smooth: 0.3, smoothMonotone: 'x' }));
  series.push(line('BG-a', ciBGa, axCI, ayCI, COL_A, 2, 8, { smooth: 0.3, smoothMonotone: 'x', markLine: markDashed(ciLines) }));
  series.push(textSeries(axCI, ayCI, ciLineLabels, { fontSize: 17, fontWeight: 'bold', color: '#000', fontFamily: FONT }));
  series.push({
    type: 'scatter', xAxisIndex: axCI, yAxisIndex: ayCI, symbolSize: 1, silent: true, z: 20,
    itemStyle: { color: 'rgba(0,0,0,0)', opacity: 1 },
    data: ciNuLabels.map(([t, x, y]) => ({ name: t, value: [x, y] })),
    label: {
      show: true, position: 'right', distance: 2, formatter: (p: any) => p.name, opacity: 1,
      rich: {
        v: { fontSize: 18, fontFamily: FONT, color: '#222', lineHeight: 22 },
        s: { fontSize: 12, fontFamily: FONT, color: '#222', verticalAlign: 'bottom', lineHeight: 12 },
        p: { fontSize: 14, fontFamily: FONT, color: '#222', verticalAlign: 'top', lineHeight: 14, fontWeight: 'bold' },
      },
    },
  });

  // ---- free texts
  const ann = (t: string, size: number) => ({ t, size, italic: true, weight: 'bold' });
  const g: any[] = [];
  const yTitle = (cy: number) => ({
    type: 'text', x: 32, y: cy, rotation: Math.PI / 2, silent: true, z: 50,
    style: { text: 'Absorbance (arb. units)', fontSize: 23, fontWeight: 'bold', fontFamily: FONT, fill: TXT, align: 'center', verticalAlign: 'middle' },
  });
  const xTitle = (cy: number) => compose([{ t: 'Wave number (cm', size: 22 }, { t: '-1', size: 13, dy: -8 }, { t: ')', size: 22 }], 367, cy, 'center');
  const day = (num: string, sup: string, x: number, cy: number) =>
    compose([{ t: num, size: 31 }, { t: sup, size: 18, dy: -9 }, { t: ' day', size: 31 }], x, cy, 'left');
  const letter = (t: string, x: number, cy: number) => ({
    type: 'text', x, y: cy, silent: true, z: 50,
    style: { text: t, fontSize: 25, fontWeight: 'bold', fontFamily: FONT, fill: TXT, align: 'center', verticalAlign: 'middle' },
  });

  g.push(letter('(a)', 33, 26), letter('(b)', 34, 558), letter('(c)', 37, 1095));
  g.push(yTitle(228), yTitle(763), yTitle(1298));
  g.push(...xTitle(497), ...xTitle(1028), ...xTitle(1568));
  g.push(...day('3', 'rd', 485, 392.5), ...day('15', 'th', 479, 935), ...day('30', 'th', 482, 1478));
  g.push(...compose([ann('bending water', 16)], 287, 352, 'center', '#222'));
  g.push(...compose([ann('stretching O-H', 16)], 566, 201, 'center', '#222'));
  g.push(...compose([ann('stretching (CO', 15), { t: '3', size: 10, dy: 5, italic: true }, ann(')', 15), { t: '2-', size: 10, dy: -6, italic: true }], 223, 843, 'left', '#222'));
  g.push(...compose([ann('bending water', 15)], 338, 862, 'center', '#222'));
  g.push(...compose([ann('stretching O-H', 15)], 545, 757, 'center', '#222'));
  g.push({
    type: 'text', x: 594, y: 1230, rotation: Math.PI / 2, silent: true, z: 50,
    style: { text: 'stretching O-H', fontSize: 15, fontWeight: 'bold', fontStyle: 'italic', fontFamily: FONT, fill: '#222', align: 'center', verticalAlign: 'middle' },
  });

  return {
    animation: false,
    backgroundColor: '#ffffff',
    grid, xAxis, yAxis, series,
    legend: {
      show: true, left: 484, top: 250, orient: 'vertical', icon: 'rect', itemWidth: 44, itemHeight: 3, itemGap: 6,
      padding: [14, 20, 14, 10], borderColor: '#9a9a9a', borderWidth: 1.5, backgroundColor: '#ffffff', selectedMode: false, z: 30,
      textStyle: { fontSize: 22, fontWeight: 'bold', fontFamily: FONT },
      data: [
        { name: 'BG-a', textStyle: { color: '#000000' } },
        { name: 'BG-b', textStyle: { color: '#7c7c7c' } },
        { name: 'BG-c', textStyle: { color: '#c2c2c2' } },
      ],
    },
    graphic: { elements: g },
  };
}

export default function App() {
  const ref = useRef<HTMLDivElement>(null);
  useEffect(() => {
    document.body.style.margin = '0';
    const chart = echarts.init(ref.current!, null, { renderer: 'svg' });
    chart.setOption(buildOption() as any);
    return () => chart.dispose();
  }, []);
  return <div ref={ref} style={{ position: 'absolute', left: 0, top: 0, width: 640, height: 1583, background: '#fff' }} />;
}
